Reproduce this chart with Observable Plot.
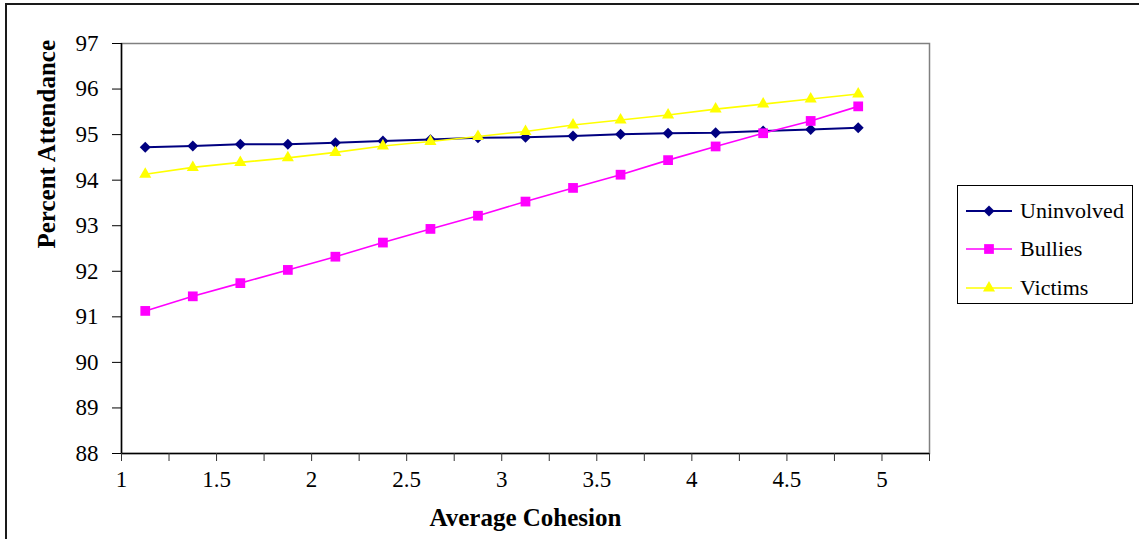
<!DOCTYPE html>
<html>
<head>
<meta charset="utf-8">
<script src="https://cdn.jsdelivr.net/npm/d3@7"></script>
<script src="https://cdn.jsdelivr.net/npm/@observablehq/plot@0.6"></script>
<style>
  html, body { margin: 0; padding: 0; background: #fff; overflow: hidden; }
  #wrap { position: relative; width: 1139px; height: 539px; overflow: hidden; font-family: "Liberation Serif", "Times New Roman", serif; }
  #border { position: absolute; left: 5px; top: 3px; width: 1200px; height: 600px; border-left: 2px solid #1a1a1a; border-top: 2px solid #1a1a1a; box-sizing: border-box; }
  #chart { position: absolute; left: 0; top: 0; }
  #chart svg, #chart svg text { font-family: "Liberation Serif", "Times New Roman", serif; }
  #legend { position: absolute; left: 957px; top: 185px; width: 176px; height: 119px; border: 1px solid #000; box-sizing: border-box; background: #fff; }
  .item { position: absolute; left: 8px; height: 30px; display: flex; align-items: center; font-size: 22px; color: #000; }
  .item svg { margin-right: 8px; }
</style>
</head>
<body>
<div id="wrap">
  <div id="border"></div>
  <div id="chart"></div>
  <div id="legend"></div>
</div>
<script>
// ---- data ----
const series = ["Uninvolved", "Bullies", "Victims"];
const cohesion = [1.125, 1.375, 1.625, 1.875, 2.125, 2.375, 2.625, 2.875, 3.125, 3.375, 3.625, 3.875, 4.125, 4.375, 4.625, 4.875];
const uninvolved = [94.72, 94.75, 94.79, 94.79, 94.82, 94.86, 94.89, 94.93, 94.94, 94.97, 95.01, 95.03, 95.04, 95.08, 95.11, 95.15];
const bullies = [91.13, 91.45, 91.74, 92.03, 92.32, 92.63, 92.93, 93.22, 93.53, 93.83, 94.12, 94.44, 94.74, 95.03, 95.30, 95.62];
const victims = [94.13, 94.28, 94.39, 94.49, 94.61, 94.75, 94.85, 94.96, 95.07, 95.21, 95.32, 95.43, 95.56, 95.67, 95.78, 95.89];
const colors = ["#000080", "#FF00FF", "#FFFF00"];
const symbols = ["diamond2", "square", "triangle"];
const xTicks = [1, 1.25, 1.5, 1.75, 2, 2.25, 2.5, 2.75, 3, 3.25, 3.5, 3.75, 4, 4.25, 4.5, 4.75, 5, 5.25];
const xLabels = [1, 1.5, 2, 2.5, 3, 3.5, 4, 4.5, 5];
const yTicks = [88, 89, 90, 91, 92, 93, 94, 95, 96, 97];
const xDomain = [1, 5.25];
const yDomain = [88, 97];
const xTitle = "Average Cohesion";
const yTitle = "Percent Attendance";

// ---- build table ----
const valuesBySeries = [uninvolved, bullies, victims];
const rows = [];
series.forEach((s, i) => cohesion.forEach((c, j) => rows.push({series: s, x: c, y: valuesBySeries[i][j]})));

const serif = "'Liberation Serif', 'Times New Roman', serif";
const markerR = {Uninvolved: 4.95, Bullies: 5.5, Victims: 4.5};
const lineW = {Uninvolved: 2, Bullies: 1.6, Victims: 1.6};

const marks = [
  Plot.frame({stroke: "#808080", strokeWidth: 1.5}),
  Plot.ruleX([xDomain[0]], {stroke: "#000", strokeWidth: 1.5}),
  Plot.ruleY([yDomain[0]], {stroke: "#000", strokeWidth: 1.5}),
  Plot.axisY({ticks: yTicks, tickSize: 9, tickPadding: 14, fontSize: 23, fontFamily: serif, label: null, stroke: "#000", tickFormat: d => String(d)}),
  Plot.axisX({ticks: xTicks, tickSize: 8, tickFormat: () => "", label: null, stroke: "#333"}),
  Plot.axisX({ticks: xLabels, tickSize: 0, tickPadding: 17, fontSize: 23, fontFamily: serif, label: null, tickFormat: d => String(d)}),
  Plot.text([xTitle], {frameAnchor: "bottom", dy: 72, fontSize: 25, fontWeight: "bold", fontFamily: serif, text: d => d}),
  Plot.text([yTitle], {frameAnchor: "left", dx: -75, rotate: -90, fontSize: 25, fontWeight: "bold", fontFamily: serif, text: d => d})
];
series.forEach((s, i) => {
  const data = rows.filter(r => r.series === s);
  marks.push(Plot.line(data, {x: "x", y: "y", stroke: colors[i], strokeWidth: lineW[s]}));
  marks.push(Plot.dot(data, {x: "x", y: "y", symbol: () => symbols[i], fill: colors[i], stroke: "none", r: markerR[s]}));
});

const chart = Plot.plot({
  width: 1139,
  height: 539,
  marginLeft: 121,
  marginRight: 210,
  marginTop: 43,
  marginBottom: 86,
  style: {fontFamily: serif, background: "transparent", color: "#000"},
  x: {domain: xDomain},
  y: {domain: yDomain},
  symbol: {type: "identity"},
  marks
});
document.getElementById("chart").appendChild(chart);

// ---- legend ----
const legend = document.getElementById("legend");
const rowTops = [10, 48, 87];
series.forEach((s, i) => {
  const item = document.createElement("div");
  item.className = "item";
  item.style.top = rowTops[i] + "px";
  const sw = d3.create("svg").attr("width", 46).attr("height", 20);
  sw.append("line").attr("x1", 0).attr("x2", 46).attr("y1", 10).attr("y2", 10)
    .attr("stroke", colors[i]).attr("stroke-width", lineW[s]);
  const symType = [d3.symbolDiamond2, d3.symbolSquare, d3.symbolTriangle][i];
  sw.append("path").attr("transform", "translate(23,10)")
    .attr("d", d3.symbol(symType, markerR[s] * markerR[s] * Math.PI)())
    .attr("fill", colors[i]);
  item.appendChild(sw.node());
  const label = document.createElement("span");
  label.textContent = s;
  item.appendChild(label);
  legend.appendChild(item);
});
</script>
</body>
</html>
